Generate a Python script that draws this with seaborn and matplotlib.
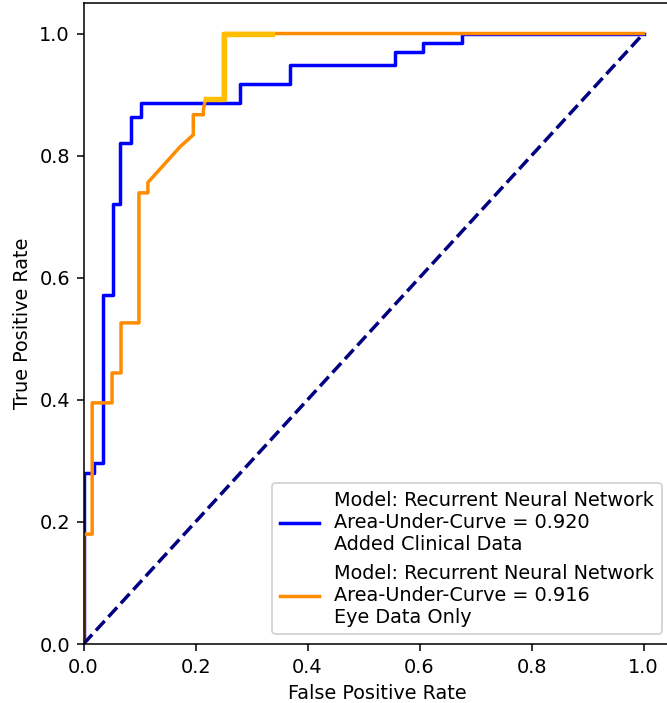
import matplotlib
matplotlib.use("Agg")
import matplotlib.pyplot as plt
import seaborn as sns

# ROC curve vertices
clin_fpr = [0, 0, 0.0196, 0.0196, 0.034, 0.034, 0.052, 0.052, 0.066, 0.066, 0.084, 0.084,
            0.103, 0.103, 0.279, 0.279, 0.368, 0.368, 0.557, 0.557, 0.607, 0.607, 0.675, 0.675, 1.0]
clin_tpr = [0, 0.28, 0.28, 0.297, 0.297, 0.572, 0.572, 0.721, 0.721, 0.821, 0.821, 0.864,
            0.864, 0.887, 0.887, 0.918, 0.918, 0.949, 0.949, 0.969, 0.969, 0.985, 0.985, 1.0, 1.0]

eye_fpr = [0, 0, 0.0155, 0.0155, 0.051, 0.051, 0.067, 0.067, 0.099, 0.099, 0.115, 0.115,
           0.173, 0.196, 0.196, 0.214, 0.214, 0.218, 0.25, 0.25, 1.0]
eye_tpr = [0, 0.18, 0.18, 0.395, 0.395, 0.444, 0.444, 0.526, 0.526, 0.739, 0.739, 0.756,
           0.815, 0.834, 0.867, 0.867, 0.875, 0.893, 0.893, 1.0, 1.0]

gold_fpr = [0.218, 0.25, 0.25, 0.337]
gold_tpr = [0.893, 0.893, 1.0, 1.0]

chance = [0, 1]

label_clin = "Model: Recurrent Neural Network\nArea-Under-Curve = 0.920\nAdded Clinical Data"
label_eye = "Model: Recurrent Neural Network\nArea-Under-Curve = 0.916\nEye Data Only"

DPI = 139
fig = plt.figure(figsize=(667 / DPI, 703 / DPI), dpi=DPI)
ax = fig.add_axes([83.5 / 667, 1 - 644 / 703, 588 / 667, 641 / 703])

sns.lineplot(x=clin_fpr, y=clin_tpr, sort=False, estimator=None, color="blue", lw=1.8,
             label=label_clin, ax=ax)
sns.lineplot(x=eye_fpr, y=eye_tpr, sort=False, estimator=None, color="darkorange", lw=1.8,
             label=label_eye, ax=ax)
sns.lineplot(x=gold_fpr, y=gold_tpr, sort=False, estimator=None, color="#FFBF00", lw=2.8,
             ax=ax, legend=False)
sns.lineplot(x=chance, y=chance, sort=False, estimator=None, color="navy", lw=1.8,
             linestyle="--", ax=ax, legend=False)

ax.set_xlim(0, 1.05)
ax.set_ylim(0, 1.05)
ax.set_xticks([0, 0.2, 0.4, 0.6, 0.8, 1.0])
ax.set_yticks([0, 0.2, 0.4, 0.6, 0.8, 1.0])
ax.set_xlabel("False Positive Rate")
ax.set_ylabel("True Positive Rate")
ax.legend(loc="lower right")

fig.savefig("out.png", dpi=DPI)
